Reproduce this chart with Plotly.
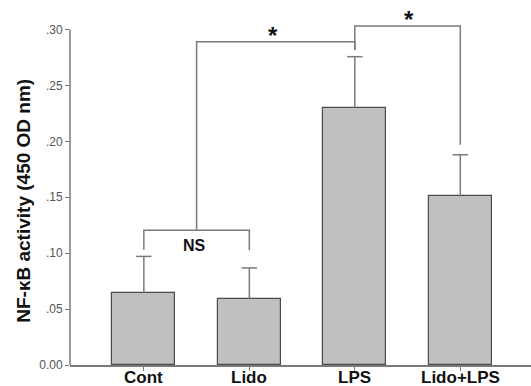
import plotly.graph_objects as go

categories = ["Cont", "Lido", "LPS", "Lido+LPS"]
means = [0.0641, 0.0594, 0.2296, 0.1507]
errors = [0.0330, 0.0274, 0.0461, 0.0373]
ytick_vals = [0.0, 0.05, 0.10, 0.15, 0.20, 0.25, 0.30]
ytick_text = ["0.00", ".05", ".10", ".15", ".20", ".25", ".30"]

# significance brackets: (x points, y points)
ns_bracket_x = [0, 0, 1, 1]
ns_bracket_y = [0.1031, 0.1204, 0.1204, 0.1025]
stem_x = [0.5, 0.5, 2, 2]
stem_y = [0.1204, 0.2891, 0.2891, 0.2817]
top_bracket_x = [2, 2, 3, 3]
top_bracket_y = [0.2817, 0.3031, 0.3031, 0.1969]
labels = ["NS", "*", "*"]
label_x = [0.48, 1.22, 2.515]
label_y = [0.1071, 0.2946, 0.3089]

FONT = "Liberation Sans, Arial, sans-serif"
LINE = "#7a7a7a"

x = list(range(len(categories)))
fig = go.Figure()
fig.add_trace(go.Bar(
    x=x, y=means, width=0.6,
    marker=dict(color="#c0c0c0", line=dict(color="#4a4a4a", width=1.2)),
    showlegend=False,
))

# upper-only error bars: stems + caps
stem_xs, stem_ys = [], []
for xi, m, e in zip(x, means, errors):
    stem_xs += [xi, xi, None]
    stem_ys += [m, m + e, None]
fig.add_trace(go.Scatter(x=stem_xs, y=stem_ys, mode="lines", line=dict(color=LINE, width=1.5),
                         showlegend=False, hoverinfo="skip"))
fig.add_trace(go.Scatter(x=x, y=[m + e for m, e in zip(means, errors)], mode="markers",
                         marker=dict(symbol="line-ew", size=11, line=dict(color=LINE, width=1.5)),
                         showlegend=False, hoverinfo="skip"))

for bx, by in [(ns_bracket_x, ns_bracket_y), (stem_x, stem_y), (top_bracket_x, top_bracket_y)]:
    fig.add_trace(go.Scatter(x=bx, y=by, mode="lines", line=dict(color=LINE, width=1.5),
                             showlegend=False, hoverinfo="skip", cliponaxis=False))

for t, lx, ly in zip(labels, label_x, label_y):
    fig.add_annotation(x=lx, y=ly, text=t, showarrow=False, xref="x", yref="y",
                       xanchor="center", yanchor="middle",
                       font=dict(family=FONT, size=16 if t == "NS" else 24, color="#111", weight="bold"))

# category labels
for xi, c in zip(x, categories):
    fig.add_annotation(x=xi, y=(365.5 - 378.5) / 360.5, xref="x", yref="paper", text=c,
                       showarrow=False, xanchor="center", yanchor="middle",
                       font=dict(family=FONT, size=17, color="#111", weight="bold"))

fig.add_annotation(x=(23.5 - 70) / 461, xref="paper", y=0.1464, yref="y",
                   text="NF-κB activity (450 OD nm)", textangle=-90, showarrow=False,
                   xanchor="center", yanchor="middle",
                   font=dict(family=FONT, size=19, color="#111", weight="bold"))

# y axis line only up to .30
fig.add_shape(type="line", xref="paper", yref="y", x0=0, x1=0, y0=0, y1=0.30,
              line=dict(color=LINE, width=1.5))

fig.update_layout(
    width=531, height=386,
    margin=dict(l=70, r=0, t=5, b=20.5),
    paper_bgcolor="white", plot_bgcolor="white",
    bargap=0,
    xaxis=dict(range=[-0.7, 3.67], tickvals=x, ticktext=[""] * len(x), showgrid=False, zeroline=False,
               showline=True, linecolor=LINE, linewidth=1.5, ticks="outside", ticklen=4,
               tickcolor=LINE, tickwidth=1, automargin=False),
    yaxis=dict(range=[0, 0.3219], tickvals=ytick_vals, ticktext=ytick_text, showgrid=False,
               zeroline=False, showline=False, ticks="outside", ticklen=4, tickcolor=LINE,
               tickwidth=1, automargin=False,
               tickfont=dict(family=FONT, size=12, color="#555")),
)

fig.write_html("out.html")
